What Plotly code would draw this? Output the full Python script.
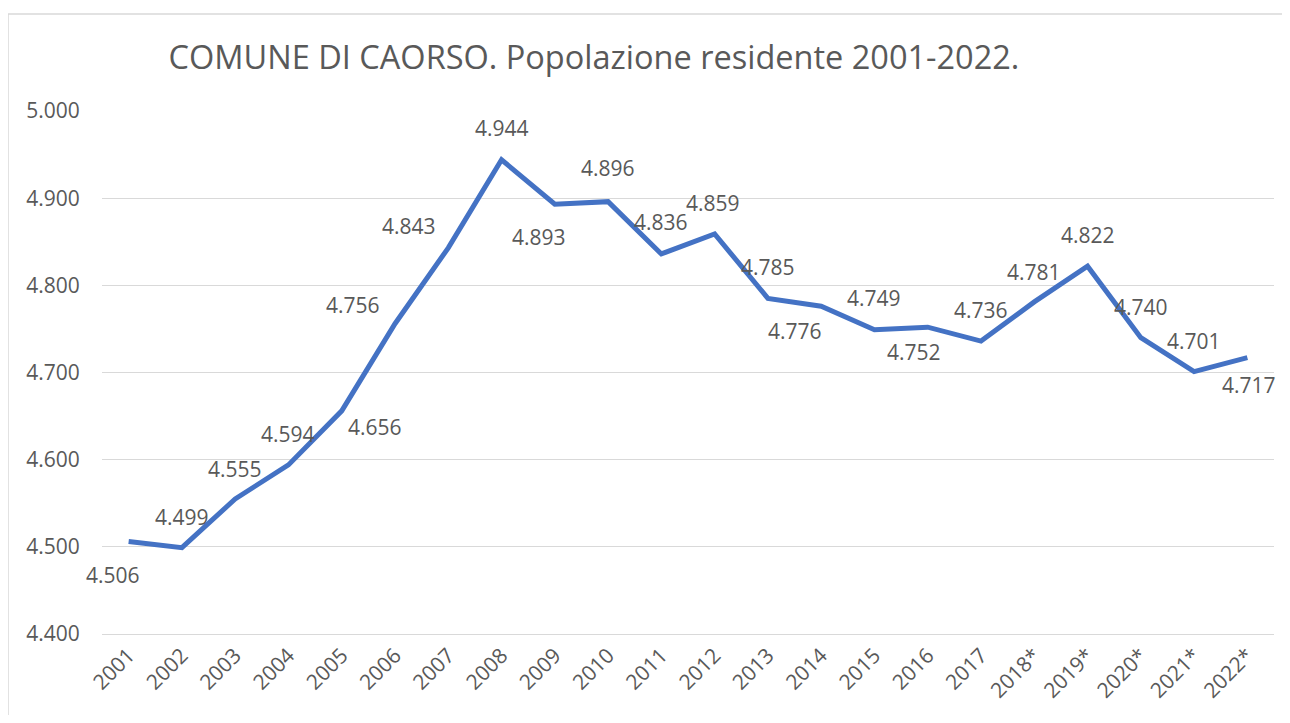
import plotly.graph_objects as go

years = ["2001", "2002", "2003", "2004", "2005", "2006", "2007", "2008", "2009", "2010",
         "2011", "2012", "2013", "2014", "2015", "2016", "2017", "2018*", "2019*", "2020*",
         "2021*", "2022*"]
population = [4506, 4499, 4555, 4594, 4656, 4756, 4843, 4944, 4893, 4896,
              4836, 4859, 4785, 4776, 4749, 4752, 4736, 4781, 4822, 4740,
              4701, 4717]
y_ticks = [4400, 4500, 4600, 4700, 4800, 4900, 5000]
title_text = "COMUNE DI CAORSO. Popolazione residente 2001-2022."

# label offsets in pixels (style only)
label_dx = [-16, 0, 0, 0, 33, -42, -39, 0, -16, 0, 0, -2, 0, -26, 0, -14, 0, 0, 0, 0, 0, 2]
label_dy = [33, -31, -30, -31, 16, -19, -22, -32, 33, -34, -32, -31, -31, 25, -32, 25, -31, -30, -31, -31, -31, 27]

TXT = "#595959"
FONT = "Open Sans"
OFF = 8  # page body margin in the browser

W, H = 1290 - 2 * OFF, 723 - 2 * OFF
PL, PR, PT, PB = 102 - OFF, 1274 - OFF, 111 - OFF, 634 - OFF  # plot area in figure px


def fmt(v):
    return f"{v:,}".replace(",", ".")


xi = list(range(len(years)))

fig = go.Figure()
fig.add_trace(go.Scatter(
    x=xi, y=population, mode="lines",
    line=dict(color="#4472C4", width=5),
    hoverinfo="y", showlegend=False,
))

annotations = []
for i, v, dx, dy in zip(xi, population, label_dx, label_dy):
    annotations.append(dict(
        x=i, y=v, xref="x", yref="y", text=fmt(v), showarrow=False,
        xshift=dx, yshift=-dy, font=dict(family=FONT, size=21, color=TXT),
        xanchor="center", yanchor="middle",
    ))

pw, ph = PR - PL, PB - PT
bx0 = (0 - PL) / pw
bx1 = (W + 20 - PL) / pw
by0 = (PB - H - 20) / ph
by1 = (PB - (14 - OFF)) / ph
border = dict(color="#D9D9D9", width=1.5)

fig.update_layout(
    width=W, height=H,
    margin=dict(l=PL, r=W - PR, t=PT, b=H - PB, autoexpand=False),
    paper_bgcolor="white", plot_bgcolor="white",
    separators=",.",
    title=dict(text=title_text, x=(594 - OFF) / W, xanchor="center",
               y=1 - (58 - OFF) / H, yanchor="middle", yref="container", xref="container",
               font=dict(family=FONT, size=32.5, color=TXT)),
    annotations=annotations,
    shapes=[
        dict(type="line", xref="paper", yref="paper", x0=bx0, x1=bx1, y0=by1, y1=by1,
             line=border, layer="below"),
        dict(type="line", xref="paper", yref="paper", x0=bx0, x1=bx0, y0=by0, y1=by1,
             line=border, layer="below"),
    ],
    xaxis=dict(
        range=[-0.5, len(years) - 0.5], tickvals=xi, ticktext=years,
        showgrid=False, zeroline=False,
        showline=True, linecolor="#D9D9D9", linewidth=1,
        tickangle=-45, tickfont=dict(family=FONT, size=21, color=TXT),
        ticks="", fixedrange=True, automargin=False,
    ),
    yaxis=dict(
        range=[4400, 5000], tickvals=y_ticks, tickformat=",.0f",
        showgrid=True, gridcolor="#D9D9D9", gridwidth=1.3,
        zeroline=False, showline=False,
        ticks="outside", ticklen=17, tickcolor="rgba(0,0,0,0)",
        tickfont=dict(family=FONT, size=21, color=TXT), automargin=False,
    ),
)

fig.write_html("out.html")
